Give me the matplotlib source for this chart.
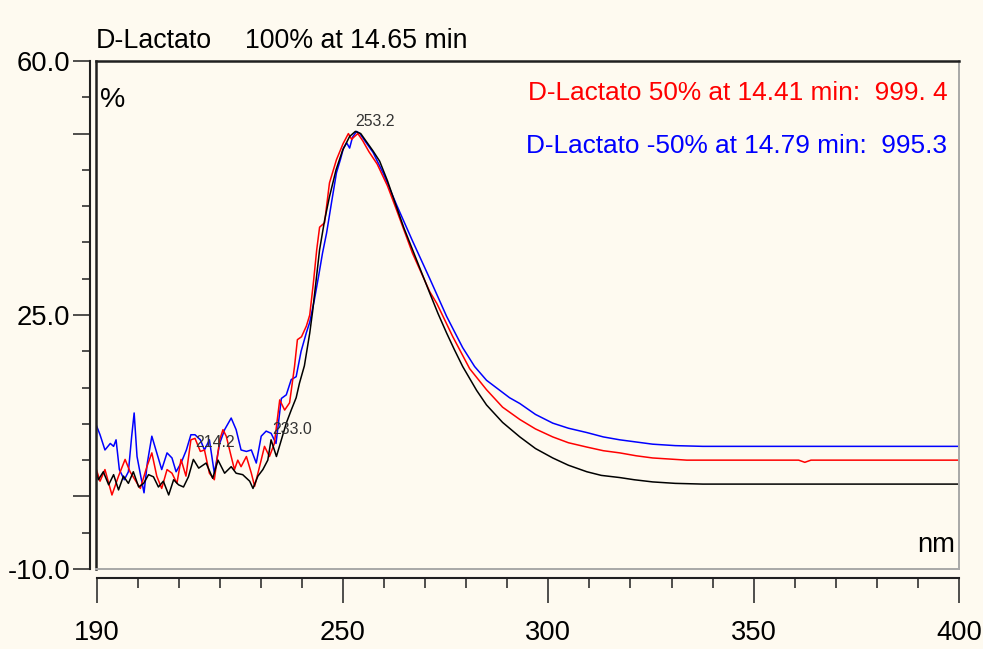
import matplotlib
matplotlib.use('Agg')
import matplotlib.pyplot as plt
from matplotlib import font_manager

black_nm = [190.0, 190.7, 191.9, 193.2, 194.4, 195.6, 196.8, 198.0, 199.2, 200.5, 201.7, 202.9, 204.1, 205.3,
            206.5, 207.8, 209.0, 210.2, 211.4, 212.6, 213.8, 215.1, 216.9, 218.5, 219.8, 221.4, 223.0, 224.2,
            225.8, 227.5, 228.3, 229.5, 230.7, 231.9, 232.7, 234.0, 235.2, 236.4, 237.6, 238.8, 239.6, 240.8,
            242.1, 242.8, 243.6, 244.5, 245.7, 246.9, 248.5, 250.1, 251.8, 253.2, 254.5, 256.0, 257.5, 259.1,
            261.0, 263.2, 265.0, 267.1, 269.2, 271.3, 273.3, 275.4, 277.3, 279.3, 282.7, 285.1, 289.0, 293.2,
            297.0, 301.2, 305.0, 309.5, 313.0, 317.5, 321.0, 325.5, 331.0, 337.7, 400.0]
black_pct = [3.7, 2.3, 3.4, 1.6, 3.0, 0.9, 2.8, 1.8, 3.4, 1.3, 1.8, 3.0, 2.7, 1.3,
             2.1, 0.2, 2.3, 1.6, 1.3, 2.7, 5.1, 3.9, 4.6, 2.5, 5.0, 3.2, 4.1, 3.2,
             3.0, 2.1, 1.1, 2.8, 3.7, 5.0, 7.8, 5.5, 7.8, 10.1, 11.9, 13.6, 15.6, 18.0,
             22.5, 25.5, 29.5, 34.0, 38.0, 41.3, 45.0, 47.7, 49.6, 50.3, 50.0, 48.8, 47.6, 46.2,
             43.5, 39.9, 37.0, 34.0, 31.0, 28.0, 25.2, 22.5, 20.2, 17.9, 14.6, 12.6, 10.2, 8.2,
             6.6, 5.3, 4.3, 3.4, 2.9, 2.6, 2.3, 2.0, 1.8, 1.7, 1.7]

red_nm = [190.0, 191.1, 192.3, 194.0, 195.6, 197.2, 198.4, 199.6, 200.9, 202.5, 203.7, 204.9, 206.1, 207.4,
          208.6, 209.8, 210.8, 212.0, 213.2, 214.2, 215.5, 216.5, 217.7, 218.9, 220.2, 221.0, 221.8, 223.0,
          223.8, 224.6, 225.4, 226.7, 227.9, 228.7, 229.9, 231.1, 232.3, 233.5, 234.8, 236.0, 237.2, 238.4,
          239.1, 240.1, 241.3, 242.1, 243.0, 243.8, 244.5, 245.7, 246.9, 248.6, 250.2, 251.5, 252.3, 253.0,
          253.8, 255.0, 256.5, 258.5, 261.0, 263.2, 267.1, 271.3, 273.0, 276.9, 281.0, 285.1, 289.0, 293.2,
          297.0, 301.2, 305.0, 309.5, 313.5, 317.5, 321.5, 325.5, 333.8, 361.0, 362.5, 364.0, 400.0]
red_pct = [4.1, 2.1, 3.7, 0.2, 2.8, 5.1, 3.4, 2.3, 1.1, 4.1, 6.0, 2.8, 1.1, 3.7,
           3.2, 1.8, 5.1, 2.8, 7.8, 8.0, 6.2, 6.4, 3.2, 2.3, 7.8, 9.2, 8.3, 5.5,
           3.7, 5.0, 4.1, 5.5, 3.2, 1.4, 4.1, 6.9, 5.5, 7.3, 13.3, 11.9, 12.9, 17.9,
           21.6, 22.0, 23.5, 25.0, 29.5, 34.0, 37.1, 37.7, 43.2, 46.4, 48.6, 50.0, 49.2, 49.6,
           50.0, 49.0, 47.5, 45.8, 42.8, 39.5, 33.5, 28.2, 26.6, 22.0, 17.6, 14.7, 12.3, 10.6,
           9.3, 8.2, 7.4, 6.8, 6.3, 6.0, 5.6, 5.3, 5.0, 5.0, 4.7, 5.0, 5.0]

blue_nm = [190.0, 191.1, 192.3, 193.6, 194.4, 195.0, 195.8, 197.0, 198.0, 198.8, 199.4, 200.1, 201.0, 201.8,
           202.6, 203.7, 204.9, 206.1, 207.4, 208.6, 209.6, 210.8, 212.1, 213.2, 214.2, 215.5, 216.5, 217.7,
           218.9, 220.2, 221.4, 223.0, 224.2, 225.4, 226.7, 227.9, 229.1, 230.3, 231.5, 232.7, 233.9, 235.2,
           236.4, 237.6, 238.8, 240.0, 241.3, 242.1, 243.2, 244.3, 245.2, 246.2, 247.4, 248.6, 249.6, 250.3,
           251.1, 251.8, 252.5, 253.5, 254.3, 255.5, 257.5, 260.0, 263.2, 267.1, 271.3, 275.4, 279.3, 282.2,
           285.1, 290.7, 293.2, 297.0, 301.2, 305.0, 309.5, 313.5, 317.5, 325.5, 331.0, 337.7, 400.0]
blue_pct = [10.1, 8.5, 6.4, 7.3, 6.9, 7.8, 3.7, 2.3, 3.4, 8.3, 11.5, 5.5, 2.8, 0.5,
            4.6, 8.3, 6.0, 3.7, 6.0, 5.3, 3.4, 4.6, 6.4, 8.5, 8.5, 7.8, 6.4, 7.8,
            3.2, 7.3, 9.2, 10.8, 9.2, 6.4, 6.2, 6.4, 4.6, 8.3, 9.0, 8.7, 7.3, 13.5,
            14.0, 16.1, 16.5, 20.0, 22.6, 24.0, 27.0, 30.5, 33.5, 36.3, 40.5, 44.6, 46.5, 48.0,
            48.7, 48.0, 49.5, 50.3, 50.0, 49.0, 47.4, 44.5, 40.2, 35.2, 30.0, 24.8, 20.5, 17.9,
            16.0, 13.6, 12.8, 11.3, 10.1, 9.4, 8.8, 8.2, 7.8, 7.2, 7.0, 6.9, 6.9]

# etiquettes des maxima (nm, %)
peak_nm = [253.2, 214.2, 233.0]
peak_pct = [51.7, 7.4, 9.2]

x_major = [190, 250, 300, 350, 400]
x_minor = [200, 210, 220, 230, 240, 260, 270, 280, 290, 310, 320, 330, 340, 360, 370, 380, 390]
y_major = [60, 50, 25, 0, -10]
y_labels = ['60.0', '', '25.0', '', '-10.0']
y_minor = [55, 45, 40, 35, 30, 20, 15, 10, 5, -5]

title_name = 'D-Lactato'
title_info = '100% at 14.65 min'
legend_red = 'D-Lactato 50% at 14.41 min:  999. 4'
legend_blue = 'D-Lactato -50% at 14.79 min:  995.3'

# police etroite si disponible
names = set(f.name for f in font_manager.fontManager.ttflist)
if 'Liberation Sans Narrow' in names:
    font = 'Liberation Sans Narrow'
    k = 1.0
else:
    font = 'Liberation Sans'
    k = 0.82
plt.rcParams['font.family'] = [font, 'DejaVu Sans']

bg = '#fefaf0'
W, H = 983.0, 649.0

def fx(px):
    return px / W

def fy(py):
    return 1 - py / H

fig = plt.figure(figsize=(9.83, 6.49), dpi=100)
fig.patch.set_facecolor(bg)

# zone du trace
ax = fig.add_axes([fx(95.5), fy(569), (959 - 95.5) / W, (569 - 61) / H])
ax.set_facecolor(bg)
ax.plot(blue_nm, blue_pct, color='#0000ff', lw=1.1)
ax.plot(red_nm, red_pct, color='#ff0000', lw=1.1)
ax.plot(black_nm, black_pct, color='#000000', lw=1.1)
ax.set_xlim(190, 400)
ax.set_ylim(-10, 60)
ax.set_xticks([])
ax.set_yticks([])
ax.spines['left'].set_color('#202020')
ax.spines['top'].set_color('#202020')
ax.spines['left'].set_linewidth(1.8)
ax.spines['top'].set_linewidth(1.8)
ax.spines['right'].set_color('#a8a8a8')
ax.spines['bottom'].set_color('#a8a8a8')
ax.spines['right'].set_linewidth(1.4)
ax.spines['bottom'].set_linewidth(1.4)

for n, p in zip(peak_nm, peak_pct):
    ax.text(n, p, '%.1f' % n, fontsize=14 * k, color='#333333', ha='left', va='center')

# axe y separe a gauche
yax = fig.add_axes([fx(89.5), fy(569), 0.0001, (569 - 61) / H])
yax.patch.set_alpha(0)
yax.set_ylim(-10, 60)
yax.set_xticks([])
for s in ['top', 'right', 'bottom']:
    yax.spines[s].set_visible(False)
yax.spines['left'].set_color('#202020')
yax.spines['left'].set_linewidth(1.5)
yax.set_yticks(y_major)
yax.set_yticklabels(y_labels)
yax.set_yticks(y_minor, minor=True)
yax.tick_params(axis='y', which='major', length=12.6, width=1.1, color='#202020', pad=1,
                labelsize=24 * k)
yax.tick_params(axis='y', which='minor', length=6.1, width=1.1, color='#202020')

# axe x separe en bas
xax = fig.add_axes([fx(96.5), fy(578), (959 - 96.5) / W, 0.0001])
xax.patch.set_alpha(0)
xax.set_xlim(190, 400)
xax.set_yticks([])
for s in ['top', 'right', 'left']:
    xax.spines[s].set_visible(False)
xax.spines['bottom'].set_color('#202020')
xax.spines['bottom'].set_linewidth(1.5)
xax.set_xticks(x_major)
xax.set_xticklabels([str(v) for v in x_major])
xax.set_xticks(x_minor, minor=True)
xax.tick_params(axis='x', which='major', length=18, width=1.1, color='#202020', pad=12,
                labelsize=24 * k)
xax.tick_params(axis='x', which='minor', length=7.2, width=1.1, color='#202020')

# textes
fig.text(fx(96), fy(48), title_name, fontsize=23.5 * k, va='baseline', ha='left')
fig.text(fx(245), fy(48), title_info, fontsize=23.5 * k, va='baseline', ha='left')
fig.text(fx(100), fy(107), '%', fontsize=25 * k, va='baseline', ha='left')
fig.text(fx(955), fy(552), 'nm', fontsize=24 * k, va='baseline', ha='right')
fig.text(fx(948), fy(100), legend_red, fontsize=23 * k, color='#ff0000', va='baseline', ha='right')
fig.text(fx(947), fy(153), legend_blue, fontsize=23 * k, color='#0000ff', va='baseline', ha='right')

fig.savefig('out.png', dpi=100, facecolor=bg)
